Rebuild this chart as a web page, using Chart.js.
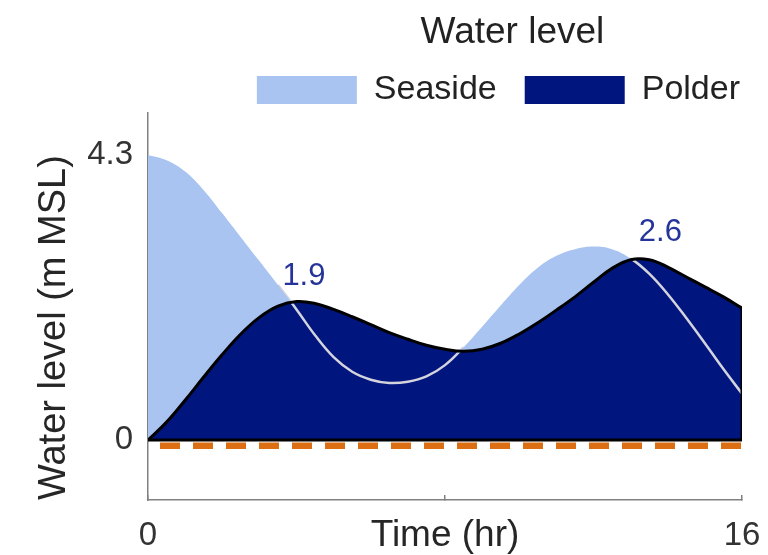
<!DOCTYPE html>
<html>
<head>
<meta charset="utf-8">
<script src="https://cdn.jsdelivr.net/npm/chart.js@4.4.0/dist/chart.umd.min.js"></script>
<style>
  html, body { margin: 0; padding: 0; background: #ffffff; }
  #wrap { width: 768px; height: 555px; position: relative; }
</style>
</head>
<body>
<div id="wrap"><canvas id="c" width="768" height="555"></canvas></div>
<script>
// ---------- data ----------
const times = [0, 0.5, 1, 1.5, 2, 2.5, 3, 3.5, 4, 4.5, 5, 5.5, 6, 6.5, 7, 7.5, 8,
               8.5, 9, 9.5, 10, 10.5, 11, 11.5, 12, 12.5, 13, 13.5, 14, 14.5, 15, 15.5, 16];
const seaside = [4.30, 4.22, 4.05, 3.77, 3.42, 3.06, 2.70, 2.34, 1.97, 1.58, 1.25, 1.03, 0.91, 0.86, 0.88, 0.96, 1.13,
                 1.40, 1.71, 2.03, 2.34, 2.60, 2.78, 2.88, 2.92, 2.88, 2.74, 2.51, 2.20, 1.84, 1.46, 1.07, 0.70];
const polder = [0.00, 0.27, 0.60, 0.95, 1.29, 1.60, 1.85, 2.02, 2.09, 2.06, 1.97, 1.86, 1.74, 1.62, 1.52, 1.43, 1.37,
                1.34, 1.37, 1.46, 1.60, 1.77, 1.96, 2.16, 2.38, 2.59, 2.72, 2.72, 2.61, 2.46, 2.31, 2.16, 1.99];
const referenceLevel = -0.085;          // orange dashed line
const xTickValues = [0, 8, 16];
const xTickLabels = ['0', '', '16'];
const yTickValues = [0, 4.3];
const yTickLabels = ['0', '4.3'];
const peakLabelTimes = [4.2, 13.8];
const peakLabelLevels = [2.47, 3.13];
const peakLabelTexts = ['1.9', '2.6'];
const seriesNames = ['Seaside', 'Polder'];

// ---------- styles ----------
const FONT = "'Liberation Sans', Arial, Helvetica, sans-serif";
const LIGHT_BLUE = '#a9c4f1';
const NAVY = '#01157f';
const SEA_LINE = '#d4d4dc';
const AXIS = '#808080';
const ORANGE = '#dc6e14';

Chart.defaults.font.family = FONT;

const pts = arr => times.map((t, i) => ({ x: t, y: arr[i] }));
const last = polder.length - 1;

const peakLabelPlugin = {
  id: 'peakLabels',
  afterDatasetsDraw(chart) {
    const { ctx, scales: { x, y } } = chart;
    ctx.save();
    ctx.font = '31px ' + FONT;
    ctx.fillStyle = '#24349a';
    ctx.textAlign = 'center';
    ctx.textBaseline = 'middle';
    peakLabelTexts.forEach((txt, i) => {
      ctx.fillText(txt, x.getPixelForValue(peakLabelTimes[i]), y.getPixelForValue(peakLabelLevels[i]));
    });
    ctx.restore();
  }
};

new Chart(document.getElementById('c'), {
  type: 'line',
  data: {
    datasets: [
      { // 0: polder top outline
        data: pts(polder), borderColor: '#000000', borderWidth: 3, tension: 0.4,
        pointRadius: 0, fill: false
      },
      { // 1: polder right and bottom edges
        data: [{ x: times[last], y: polder[last] }, { x: times[last], y: 0 }, { x: times[0], y: 0 }],
        borderColor: '#000000', borderWidth: 3, tension: 0, borderJoinStyle: 'miter',
        pointRadius: 0, fill: false
      },
      { // 2: seaside area above polder
        label: seriesNames[0],
        data: pts(seaside), tension: 0.4, pointRadius: 0,
        borderWidth: 0, borderColor: 'rgba(0,0,0,0)', backgroundColor: LIGHT_BLUE,
        fill: { target: 4, above: LIGHT_BLUE, below: 'rgba(0,0,0,0)' }
      },
      { // 3: seaside line where it runs under the polder level
        data: pts(seaside), tension: 0.4, pointRadius: 0, borderWidth: 2.5, borderColor: SEA_LINE,
        fill: false,
        segment: {
          borderColor: c => (seaside[c.p0DataIndex] > polder[c.p0DataIndex] &&
                             seaside[c.p1DataIndex] > polder[c.p1DataIndex]) ? 'rgba(0,0,0,0)' : SEA_LINE
        }
      },
      { // 4: polder area
        label: seriesNames[1],
        data: pts(polder), tension: 0.4, pointRadius: 0,
        borderWidth: 0, borderColor: 'rgba(0,0,0,0)', backgroundColor: NAVY,
        fill: { value: 0 }
      },
      { // 5: orange dashed reference
        data: [{ x: times[0], y: referenceLevel }, { x: times[last], y: referenceLevel }],
        borderColor: ORANGE, borderWidth: 6.5, borderDash: [20, 13], borderDashOffset: 21,
        borderCapStyle: 'butt', pointRadius: 0, fill: false, clip: 0
      }
    ]
  },
  options: {
    responsive: false,
    animation: false,
    events: [],
    layout: { padding: { left: 0, right: 0, top: 0, bottom: 0 } },
    plugins: {
      tooltip: { enabled: false },
      legend: {
        display: true, position: 'top', align: 'end', maxHeight: 113,
        labels: {
          boxWidth: 100, boxHeight: 28, padding: 28, color: '#222222',
          font: { size: 34, family: FONT },
          filter: item => seriesNames.includes(item.text)
        },
        title: {
          display: true, text: 'Water level', position: 'center', color: '#222222',
          font: { size: 37, family: FONT, lineHeight: 0.84 },
          padding: { top: 14, bottom: 0 }
        }
      }
    },
    scales: {
      x: {
        type: 'linear', min: 0, max: 16,
        afterBuildTicks: s => { s.ticks = xTickValues.map(v => ({ value: v })); },
        afterFit: s => { s.height = 55; },
        ticks: {
          callback: (v, i) => xTickLabels[i], autoSkip: false, maxRotation: 0,
          padding: 7.65, color: '#333333', font: { size: 33, family: FONT, lineHeight: 2.0 }
        },
        grid: { display: true, drawOnChartArea: false, drawTicks: true, tickLength: -5, color: AXIS, lineWidth: 1.5 },
        border: { display: true, color: AXIS, width: 1.5 },
        title: {
          display: true, text: 'Time (hr)', color: '#262626',
          font: { size: 37, family: FONT, lineHeight: 1.03 }, padding: { top: 0, bottom: 0 }
        }
      },
      y: {
        type: 'linear', min: -0.905, max: 4.934,
        afterBuildTicks: s => { s.ticks = yTickValues.map(v => ({ value: v })); },
        afterFit: s => { s.width = 148; },
        ticks: {
          callback: (v, i) => yTickLabels[i], padding: 15,
          color: '#333333', font: { size: 33, family: FONT }
        },
        grid: { display: false, drawTicks: false },
        border: { display: true, color: AXIS, width: 1.5 },
        title: {
          display: true, text: 'Water level (m MSL)', align: 'start', color: '#262626',
          font: { size: 38, family: FONT }, padding: { top: 32, bottom: 0 }
        }
      }
    }
  },
  plugins: [peakLabelPlugin]
});
</script>
</body>
</html>
